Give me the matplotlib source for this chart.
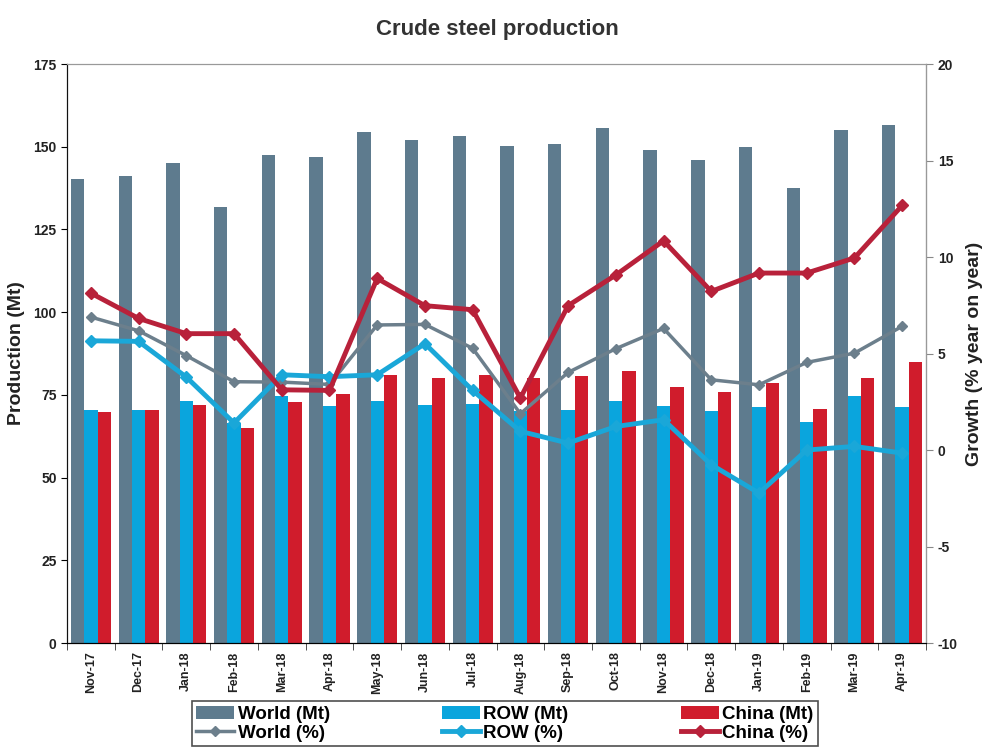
import numpy as np
import matplotlib
matplotlib.use('Agg')
import matplotlib.pyplot as plt

plt.rcParams['font.family'] = ['Liberation Sans', 'DejaVu Sans']
plt.rcParams['axes.unicode_minus'] = False

####### Data

months = ['Nov-17', 'Dec-17', 'Jan-18', 'Feb-18', 'Mar-18', 'Apr-18', 'May-18', 'Jun-18', 'Jul-18',
          'Aug-18', 'Sep-18', 'Oct-18', 'Nov-18', 'Dec-18', 'Jan-19', 'Feb-19', 'Mar-19', 'Apr-19']

world_mt = [140.2, 141.1, 145.1, 131.8, 147.5, 146.9, 154.4, 152.0, 153.2,
            150.2, 150.8, 155.6, 149.0, 146.0, 149.9, 137.5, 155.0, 156.5]
row_mt = [70.4, 70.5, 73.1, 66.5, 74.6, 71.6, 73.1, 71.9, 72.2,
          70.0, 70.4, 73.1, 71.6, 70.1, 71.3, 66.8, 74.6, 71.3]
china_mt = [69.8, 70.4, 71.9, 65.0, 72.8, 75.2, 81.0, 80.1, 81.0,
            80.1, 80.7, 82.2, 77.4, 75.9, 78.6, 70.7, 80.1, 84.9]

world_pct = [6.89, 6.18, 4.89, 3.54, 3.52, 3.40, 6.48, 6.51, 5.27,
             1.88, 4.02, 5.25, 6.30, 3.64, 3.38, 4.54, 5.02, 6.41]
row_pct = [5.66, 5.63, 3.78, 1.40, 3.90, 3.80, 3.90, 5.51, 3.09,
           0.97, 0.36, 1.22, 1.57, -0.76, -2.23, 0.0, 0.19, -0.16]
china_pct = [8.13, 6.82, 6.03, 6.03, 3.12, 3.09, 8.89, 7.48, 7.27,
             2.69, 7.48, 9.07, 10.84, 8.22, 9.17, 9.17, 9.95, 12.67]

####### Plot

c_world = '#5e7b8e'
c_row = '#0aa5dd'
c_china = '#d01c2c'

x = np.arange(len(months))
w = 0.28

fig = plt.figure(figsize=(9.94, 7.53), dpi=100)
ax = fig.add_axes([0.0674, 0.146, 0.8642, 0.769])
ax2 = ax.twinx()

b1 = ax.bar(x - w, world_mt, w, color=c_world, label='World (Mt)')
b2 = ax.bar(x, row_mt, w, color=c_row, label='ROW (Mt)')
b3 = ax.bar(x + w, china_mt, w, color=c_china, label='China (Mt)')

l1, = ax2.plot(x, world_pct, color='#6c7f8c', lw=2.5, marker='D', ms=5, label='World (%)')
l2, = ax2.plot(x, row_pct, color='#1aa7d8', lw=3.5, marker='D', ms=6, label='ROW (%)')
l3, = ax2.plot(x, china_pct, color='#b8213a', lw=3.5, marker='D', ms=6, label='China (%)')

ax.set_xlim(-0.5, len(months) - 0.5)
ax.set_ylim(0, 175)
ax.set_yticks(np.arange(0, 176, 25))
ax2.set_ylim(-10, 20)
ax2.set_yticks(np.arange(-10, 21, 5))

ax.set_xticks(x)
ax.set_xticklabels(months, rotation=90, fontsize=9, fontweight='bold', color='#222222')
ax.set_xticks(np.arange(-0.5, len(months)), minor=True)
ax.tick_params(axis='x', which='major', length=0, pad=6)
ax.tick_params(axis='x', which='minor', length=5, direction='out', color='#333333')
ax.tick_params(axis='y', length=4, direction='out', labelsize=10, labelcolor='#222222')
ax2.tick_params(axis='y', length=5, direction='out', labelsize=10, labelcolor='#222222', color='#888888')
for lab in ax.get_yticklabels() + ax2.get_yticklabels():
    lab.set_fontweight('bold')

ax.spines['left'].set_color('#111111')
ax.spines['bottom'].set_color('#111111')
ax.spines['top'].set_color('#999999')
ax2.spines['right'].set_color('#999999')
ax2.spines['top'].set_color('#999999')
ax2.spines['left'].set_color('#111111')

ax.set_ylabel('Production (Mt)', fontsize=14, fontweight='bold', color='#222222', labelpad=6)
ax2.set_ylabel('Growth (% year on year)', fontsize=14, fontweight='bold', color='#222222', labelpad=6)

fig.suptitle('Crude steel production', y=0.975, fontsize=16, fontweight='bold', color='#333333')

handles = [b1, l1, b2, l2, b3, l3]
leg = fig.legend(handles, [h.get_label() for h in handles], ncol=3, loc='center',
                 bbox_to_anchor=(0.508, 0.039), frameon=True, fancybox=False,
                 prop={'weight': 'bold', 'size': 13.5}, columnspacing=6.0,
                 handlelength=2.0, handletextpad=0.2, labelspacing=0.1, borderpad=0.25)
leg.get_frame().set_edgecolor('#222222')
leg.get_frame().set_linewidth(1.2)

fig.savefig('out.png', dpi=100)
